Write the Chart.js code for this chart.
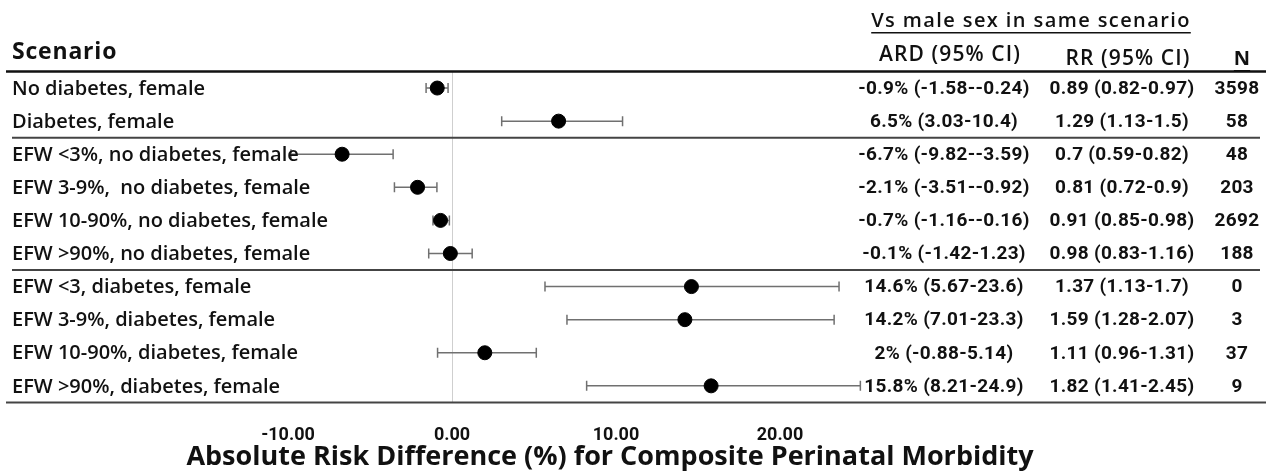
<!DOCTYPE html>
<html>
<head>
<meta charset="utf-8">
<script src="https://cdn.jsdelivr.net/npm/chart.js@4.4.1/dist/chart.umd.min.js"></script>
<style>
html, body { margin: 0; padding: 0; background: #fff; }
#wrap { width: 1266px; height: 471px; }
</style>
</head>
<body>
<div id="wrap"><canvas id="forest" width="1266" height="471"></canvas></div>
<script>
const scenarios = [
  'No diabetes, female',
  'Diabetes, female',
  'EFW <3%, no diabetes, female',
  'EFW 3-9%,  no diabetes, female',
  'EFW 10-90%, no diabetes, female',
  'EFW >90%, no diabetes, female',
  'EFW <3, diabetes, female',
  'EFW 3-9%, diabetes, female',
  'EFW 10-90%, diabetes, female',
  'EFW >90%, diabetes, female'
];
const ard   = [-0.9, 6.5, -6.7, -2.1, -0.7, -0.1, 14.6, 14.2, 2, 15.8];
const lower = [-1.58, 3.03, -9.82, -3.51, -1.16, -1.42, 5.67, 7.01, -0.88, 8.21];
const upper = [-0.24, 10.4, -3.59, -0.92, -0.16, 1.23, 23.6, 23.3, 5.14, 24.9];
const ardText = [
  '-0.9% (-1.58--0.24)', '6.5% (3.03-10.4)', '-6.7% (-9.82--3.59)', '-2.1% (-3.51--0.92)',
  '-0.7% (-1.16--0.16)', '-0.1% (-1.42-1.23)', '14.6% (5.67-23.6)', '14.2% (7.01-23.3)',
  '2% (-0.88-5.14)', '15.8% (8.21-24.9)'
];
const rrText = [
  '0.89 (0.82-0.97)', '1.29 (1.13-1.5)', '0.7 (0.59-0.82)', '0.81 (0.72-0.9)',
  '0.91 (0.85-0.98)', '0.98 (0.83-1.16)', '1.37 (1.13-1.7)', '1.59 (1.28-2.07)',
  '1.11 (0.96-1.31)', '1.82 (1.41-2.45)'
];
const nText = ['3598', '58', '48', '203', '2692', '188', '0', '3', '37', '9'];
const groupEnds = [1, 5];

// error bars, rules and the text table around the plot
const forestTable = {
  id: 'forestTable',
  beforeDatasetsDraw(chart) {
    const {ctx, scales: {x, y}} = chart;
    ctx.save();
    ctx.strokeStyle = '#707070';
    ctx.lineWidth = 1.5;
    lower.forEach((lo, i) => {
      const yy = y.getPixelForValue(i);
      const x1 = x.getPixelForValue(lo);
      const x2 = x.getPixelForValue(upper[i]);
      ctx.beginPath();
      ctx.moveTo(x1, yy); ctx.lineTo(x2, yy);
      ctx.moveTo(x1, yy - 5); ctx.lineTo(x1, yy + 5);
      ctx.moveTo(x2, yy - 5); ctx.lineTo(x2, yy + 5);
      ctx.stroke();
    });
    ctx.restore();
  },
  afterDraw(chart) {
    const {ctx, scales: {x, y}} = chart;
    const W = chart.width;
    ctx.save();

    // horizontal rules
    ctx.strokeStyle = '#111';
    ctx.lineWidth = 2.5;
    ctx.beginPath();
    ctx.moveTo(6, y.getPixelForValue(-0.5)); ctx.lineTo(W, y.getPixelForValue(-0.5));
    ctx.stroke();
    ctx.strokeStyle = '#444';
    ctx.lineWidth = 2;
    groupEnds.forEach(g => {
      const yy = y.getPixelForValue(g + 0.5);
      ctx.beginPath(); ctx.moveTo(12, yy); ctx.lineTo(W - 6, yy); ctx.stroke();
    });
    const yb = y.getPixelForValue(scenarios.length - 0.5);
    ctx.beginPath(); ctx.moveTo(6, yb); ctx.lineTo(W, yb); ctx.stroke();

    // headers
    ctx.fillStyle = '#111';
    ctx.textBaseline = 'middle';
    ctx.textAlign = 'left';
    ctx.letterSpacing = '0.8px';
    ctx.font = 'bold 23px "Open Sans"';
    ctx.fillText('Scenario', 12, 52);

    ctx.textAlign = 'center';
    ctx.letterSpacing = '1.4px';
    ctx.font = '600 20px "Open Sans"';
    ctx.fillText('Vs male sex in same scenario', 1031, 21);
    let w = ctx.measureText('Vs male sex in same scenario').width;
    ctx.fillRect(1031 - w / 2, 32, w, 1.5);

    ctx.letterSpacing = '1.1px';
    ctx.font = '600 21px "Open Sans"';
    ctx.fillText('ARD (95% CI)', 950, 55);
    ctx.fillText('RR (95% CI)', 1128, 59);
    ctx.letterSpacing = '0px';
    ctx.font = 'bold 20px "Open Sans"';
    ctx.fillText('N', 1242, 59);
    w = ctx.measureText('N').width;
    ctx.fillRect(1242 - w / 2, 70, w, 1.5);

    // rows
    scenarios.forEach((s, i) => {
      const yy = y.getPixelForValue(i) + 1;
      ctx.textAlign = 'left';
      ctx.letterSpacing = '0px';
      ctx.font = '600 20px "Open Sans"';
      ctx.fillText(s, 12, yy);
      ctx.textAlign = 'center';
      ctx.letterSpacing = '0.3px';
      ctx.font = 'bold 19px Roboto';
      ctx.fillText(ardText[i], 944, yy);
      ctx.fillText(rrText[i], 1122, yy);
      ctx.fillText(nText[i], 1237, yy);
    });

    // axis title
    ctx.letterSpacing = '0px';
    ctx.textBaseline = 'alphabetic';
    ctx.font = 'bold 27px "Open Sans"';
    ctx.fillText('Absolute Risk Difference (%) for Composite Perinatal Morbidity', 610, 465);
    ctx.restore();
  }
};

const data = {
  datasets: [{
    type: 'scatter',
    label: 'ARD',
    data: ard.map((v, i) => ({x: v, y: i})),
    backgroundColor: '#000',
    borderColor: '#000',
    pointRadius: 7,
    pointHoverRadius: 7
  }]
};

const config = {
  type: 'scatter',
  data: data,
  options: {
    responsive: false,
    animation: false,
    layout: { padding: { left: 288, right: 404, top: 71.5, bottom: 3 } },
    plugins: { legend: { display: false }, tooltip: { enabled: false } },
    scales: {
      x: {
        type: 'linear',
        min: -10,
        max: 25,
        border: { display: false },
        grid: {
          drawTicks: false,
          color: c => (c.tick && c.tick.value === 0 ? '#cfcfcf' : 'rgba(0,0,0,0)'),
          lineWidth: 1
        },
        ticks: {
          stepSize: 10,
          padding: 22,
          color: '#111',
          font: { family: 'Roboto', weight: 'bold', size: 18 },
          callback: v => (v % 10 === 0 ? v.toFixed(2) : '')
        }
      },
      y: {
        type: 'linear',
        display: false,
        reverse: true,
        min: -0.5,
        max: scenarios.length - 0.5
      }
    }
  },
  plugins: [forestTable]
};

const myChart = new Chart(document.getElementById('forest'), config);
</script>
</body>
</html>
